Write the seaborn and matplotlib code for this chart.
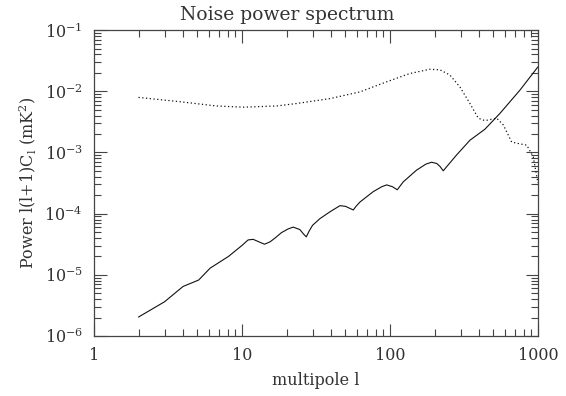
import pandas as pd
import matplotlib.pyplot as plt
import matplotlib.ticker as mticker
import seaborn as sns
import numpy as np

# noise power (solid)
noise_l = [2.0, 3.0, 4.0, 5.1, 6.1, 8.1, 10.0, 11.0, 11.9, 13.0, 14.2, 15.5, 16.7, 18.5,
           20.5, 22.2, 24.6, 26.0, 27.2, 28.5, 30.0, 33.7, 39.3, 45.9, 50.0, 56.5, 59.0,
           62.7, 77.1, 88.0, 95.0, 104, 112, 123, 151, 175, 191, 207, 218, 229, 282, 347,
           438, 554, 756, 1000]
noise_logp = [-5.69, -5.44, -5.19, -5.085, -4.89, -4.70, -4.52, -4.43, -4.42, -4.46, -4.50,
              -4.46, -4.40, -4.31, -4.25, -4.22, -4.26, -4.33, -4.38, -4.28, -4.19, -4.08,
              -3.97, -3.87, -3.88, -3.94, -3.88, -3.81, -3.64, -3.56, -3.53, -3.56, -3.61,
              -3.48, -3.29, -3.19, -3.16, -3.18, -3.23, -3.30, -3.04, -2.80, -2.62, -2.36,
              -1.98, -1.60]

# cmb spectrum (dotted)
cmb_l = [2.0, 3.8, 6.7, 10.2, 17.2, 23.4, 39.3, 62.7, 95, 136, 186, 218, 254, 297, 347,
         395, 438, 526, 583, 664, 756, 839, 929, 1000]
cmb_logp = [-2.10, -2.17, -2.24, -2.26, -2.24, -2.20, -2.12, -2.01, -1.845, -1.71, -1.64,
            -1.65, -1.735, -1.93, -2.20, -2.44, -2.48, -2.44, -2.55, -2.83, -2.86, -2.88,
            -3.07, -3.50]

noise = pd.DataFrame({"l": noise_l, "p": 10.0 ** np.array(noise_logp)})
cmb = pd.DataFrame({"l": cmb_l, "p": 10.0 ** np.array(cmb_logp)})

sns.set_style("ticks")
plt.rcParams["font.family"] = ["DejaVu Serif"]
plt.rcParams["mathtext.fontset"] = "dejavuserif"

fig = plt.figure(figsize=(5.66, 3.96), dpi=100)
ax = fig.add_axes([0.166, 0.1515, 0.7845, 0.7725])

sns.lineplot(data=noise, x="l", y="p", ax=ax, color="#111111", lw=0.8, sort=False)
sns.lineplot(data=cmb, x="l", y="p", ax=ax, color="#111111", lw=0.9, sort=False,
             linestyle=(0, (1, 2)))

ax.set_xscale("log")
ax.set_yscale("log")
ax.set_xlim(1, 1000)
ax.set_ylim(1e-6, 1e-1)

ax.xaxis.set_major_formatter(mticker.FuncFormatter(lambda v, p: f"{v:g}"))
ax.yaxis.set_major_locator(mticker.LogLocator(base=10, numticks=10))
ax.yaxis.set_minor_locator(mticker.LogLocator(base=10, subs=np.arange(2, 10), numticks=20))
ax.xaxis.set_minor_formatter(mticker.NullFormatter())
ax.yaxis.set_minor_formatter(mticker.NullFormatter())

ax.tick_params(which="both", direction="in", top=True, right=True, color="#444444",
               labelsize=11.5, labelcolor="#333333", pad=8)
ax.tick_params(which="major", length=9, width=0.8)
ax.tick_params(which="minor", length=5, width=0.8)
for s in ax.spines.values():
    s.set_linewidth(0.9)
    s.set_color("#444444")

fig.text(287 / 566, 1 - 15 / 396, "Noise power spectrum", fontsize=13.5, color="#333333",
         ha="center", va="center")
ax.set_xlabel("multipole l", fontsize=11.5, color="#333333", labelpad=6)
ax.set_ylabel(r"Power l(l+1)C$_\mathrm{l}$ (mK$^2$)", fontsize=11.5, color="#333333")

fig.savefig("out.png", dpi=100)
